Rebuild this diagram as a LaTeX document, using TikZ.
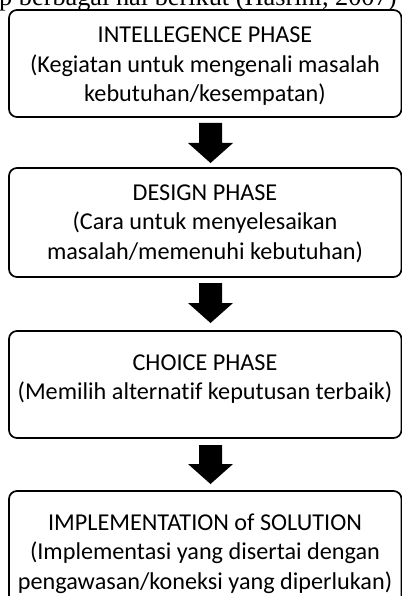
\documentclass[tikz,border=0pt]{standalone}
\usepackage{fontspec}
\setmainfont{Carlito}[Ligatures=NoCommon]
\newfontfamily\serifref{Liberation Serif}
\begin{document}
\begin{tikzpicture}[x=1pt,y=-1pt,
  phasebox/.style={draw=black,line width=1.7pt,rounded corners=8pt},
  phasetext/.style={align=center,font=\fontsize{24.2}{29.5}\selectfont,inner sep=0pt},
  bigarrow/.style={fill=black,draw=none}]
\useasboundingbox (0,0) rectangle (401,596);
% cut-off caption line above
\node[anchor=base west,inner sep=0pt,font=\serifref\fontsize{26.3}{30}\selectfont] (cap) at (-1,6) {p berbagai hal berikut (Hasrini, 2007)};
% boxes
\draw[phasebox] (9,10) rectangle (401.5,117);
\draw[phasebox] (9,168) rectangle (401.5,277);
\draw[phasebox] (9,331) rectangle (401.5,438);
\draw[phasebox] (9,491) rectangle (401.5,620);
\coordinate (b1) at (205,66.5);
\coordinate (b2) at (205,223.5);
\coordinate (b3) at (205,379);
\coordinate (b4) at (205,553.5);
\node[phasetext] (t1) at (b1) {INTELLEGENCE PHASE\\(Kegiatan untuk mengenali masalah\\kebutuhan/kesempatan)};
\node[phasetext] (t2) at (b2) {DESIGN PHASE\\(Cara untuk menyelesaikan\\masalah/memenuhi kebutuhan)};
\node[phasetext] (t3) at (b3) {CHOICE PHASE\\(Memilih alternatif keputusan terbaik)};
\node[phasetext] (t4) at (b4) {IMPLEMENTATION of SOLUTION\\(Implementasi yang disertai dengan\\pengawasan/koneksi yang diperlukan)};
% arrows
\foreach \top/\tip in {123/163, 283/323, 445/484}{
  \fill[bigarrow] (199,\top) -- (222,\top) -- (222,\tip-20) -- (233,\tip-20) -- (210.5,\tip) -- (188,\tip-20) -- (199,\tip-20) -- cycle;
}
\end{tikzpicture}
\end{document}
